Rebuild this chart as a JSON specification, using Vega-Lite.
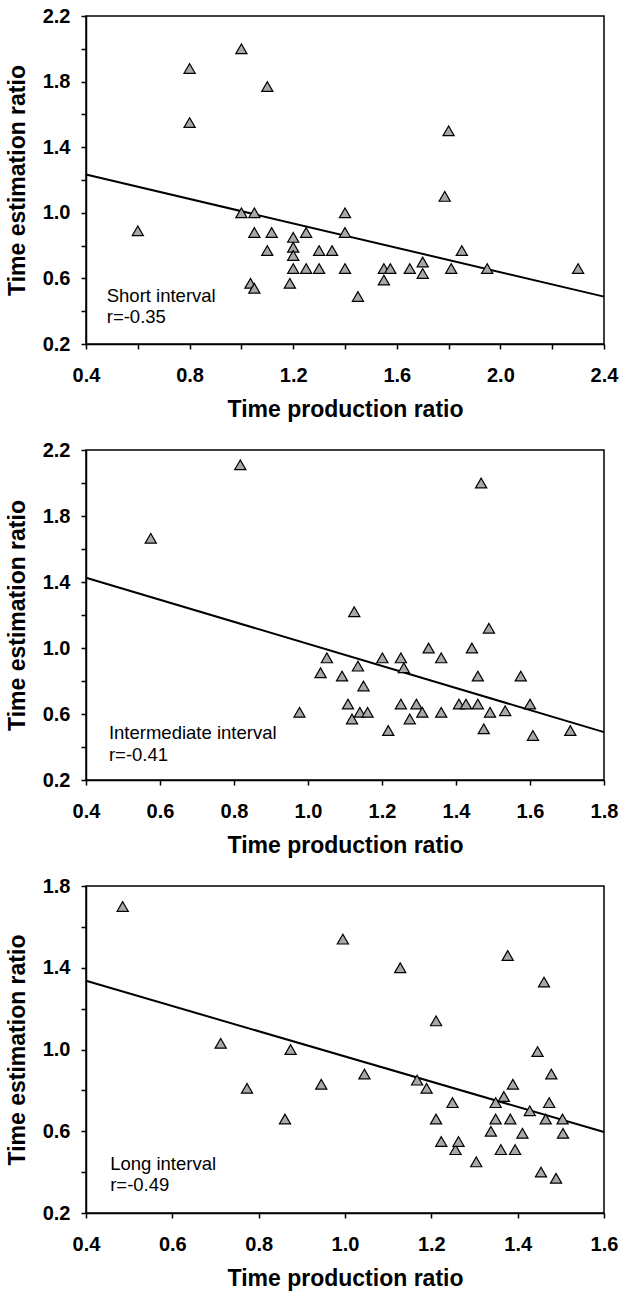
{
  "$schema": "https://vega.github.io/schema/vega-lite/v6.json",
  "padding": {"left": 5, "top": 5, "right": 5, "bottom": 5},
  "spacing": 106,
  "bounds": "flush",
  "datasets": {
    "short": [
      {"x": 0.60, "y": 0.89}, {"x": 0.80, "y": 1.88}, {"x": 0.80, "y": 1.55}, {"x": 1.00, "y": 2.00},
      {"x": 1.10, "y": 1.77}, {"x": 1.00, "y": 1.00}, {"x": 1.05, "y": 1.00}, {"x": 1.05, "y": 0.88},
      {"x": 1.117, "y": 0.88}, {"x": 1.10, "y": 0.77}, {"x": 1.035, "y": 0.57}, {"x": 1.05, "y": 0.54},
      {"x": 1.20, "y": 0.85}, {"x": 1.20, "y": 0.79}, {"x": 1.20, "y": 0.74}, {"x": 1.20, "y": 0.66},
      {"x": 1.187, "y": 0.57}, {"x": 1.25, "y": 0.88}, {"x": 1.25, "y": 0.66}, {"x": 1.30, "y": 0.77},
      {"x": 1.30, "y": 0.66}, {"x": 1.35, "y": 0.77}, {"x": 1.40, "y": 1.00}, {"x": 1.40, "y": 0.88},
      {"x": 1.40, "y": 0.66}, {"x": 1.45, "y": 0.49}, {"x": 1.55, "y": 0.66}, {"x": 1.55, "y": 0.59},
      {"x": 1.575, "y": 0.66}, {"x": 1.65, "y": 0.66}, {"x": 1.70, "y": 0.70}, {"x": 1.70, "y": 0.63},
      {"x": 1.785, "y": 1.10}, {"x": 1.80, "y": 1.50}, {"x": 1.81, "y": 0.66}, {"x": 1.851, "y": 0.77},
      {"x": 1.949, "y": 0.66}, {"x": 2.30, "y": 0.66}
    ],
    "inter": [
      {"x": 0.575, "y": 1.665}, {"x": 0.817, "y": 2.11}, {"x": 1.468, "y": 2.00}, {"x": 1.125, "y": 1.22},
      {"x": 1.489, "y": 1.12}, {"x": 0.977, "y": 0.61}, {"x": 1.034, "y": 0.85}, {"x": 1.051, "y": 0.94},
      {"x": 1.092, "y": 0.83}, {"x": 1.135, "y": 0.89}, {"x": 1.150, "y": 0.77}, {"x": 1.108, "y": 0.66},
      {"x": 1.119, "y": 0.57}, {"x": 1.140, "y": 0.61}, {"x": 1.161, "y": 0.61}, {"x": 1.201, "y": 0.94},
      {"x": 1.217, "y": 0.50}, {"x": 1.251, "y": 0.94}, {"x": 1.259, "y": 0.88}, {"x": 1.251, "y": 0.66},
      {"x": 1.275, "y": 0.57}, {"x": 1.293, "y": 0.66}, {"x": 1.309, "y": 0.61}, {"x": 1.326, "y": 1.00},
      {"x": 1.360, "y": 0.94}, {"x": 1.360, "y": 0.61}, {"x": 1.408, "y": 0.66}, {"x": 1.427, "y": 0.66},
      {"x": 1.443, "y": 1.00}, {"x": 1.459, "y": 0.83}, {"x": 1.459, "y": 0.66}, {"x": 1.475, "y": 0.51},
      {"x": 1.492, "y": 0.61}, {"x": 1.533, "y": 0.62}, {"x": 1.575, "y": 0.83}, {"x": 1.600, "y": 0.66},
      {"x": 1.608, "y": 0.47}, {"x": 1.709, "y": 0.50}
    ],
    "long": [
      {"x": 0.485, "y": 1.70}, {"x": 0.712, "y": 1.03}, {"x": 0.773, "y": 0.81}, {"x": 0.861, "y": 0.66},
      {"x": 0.874, "y": 1.00}, {"x": 0.945, "y": 0.83}, {"x": 0.995, "y": 1.54}, {"x": 1.045, "y": 0.88},
      {"x": 1.128, "y": 1.40}, {"x": 1.167, "y": 0.85}, {"x": 1.189, "y": 0.81}, {"x": 1.211, "y": 1.14},
      {"x": 1.211, "y": 0.66}, {"x": 1.223, "y": 0.55}, {"x": 1.249, "y": 0.74}, {"x": 1.256, "y": 0.51},
      {"x": 1.263, "y": 0.55}, {"x": 1.304, "y": 0.45}, {"x": 1.338, "y": 0.60}, {"x": 1.349, "y": 0.74},
      {"x": 1.349, "y": 0.66}, {"x": 1.361, "y": 0.51}, {"x": 1.368, "y": 0.77}, {"x": 1.377, "y": 1.46},
      {"x": 1.383, "y": 0.66}, {"x": 1.389, "y": 0.83}, {"x": 1.394, "y": 0.51}, {"x": 1.411, "y": 0.59},
      {"x": 1.428, "y": 0.70}, {"x": 1.446, "y": 0.99}, {"x": 1.454, "y": 0.40}, {"x": 1.461, "y": 1.33},
      {"x": 1.465, "y": 0.66}, {"x": 1.473, "y": 0.74}, {"x": 1.478, "y": 0.88}, {"x": 1.489, "y": 0.37},
      {"x": 1.504, "y": 0.66}, {"x": 1.505, "y": 0.59}
    ],
    "short_fit": [{"x": 0.4, "y": 1.233}, {"x": 2.4, "y": 0.489}],
    "inter_fit": [{"x": 0.4, "y": 1.426}, {"x": 1.8, "y": 0.490}],
    "long_fit": [{"x": 0.4, "y": 1.336}, {"x": 1.6, "y": 0.596}],
    "short_note": [{"x": 0.48, "y": 0.495, "t": "Short interval"}, {"x": 0.48, "y": 0.367, "t": "r=-0.35"}],
    "inter_note": [{"x": 0.462, "y": 0.484, "t": "Intermediate interval"}, {"x": 0.462, "y": 0.352, "t": "r=-0.41"}],
    "long_note": [{"x": 0.456, "y": 0.441, "t": "Long interval"}, {"x": 0.456, "y": 0.335, "t": "r=-0.49"}]
  },
  "vconcat": [
    {
      "width": 518,
      "height": 328,
      "encoding": {
        "x": {
          "field": "x", "type": "quantitative",
          "scale": {"domain": [0.4, 2.4], "nice": false, "zero": false},
          "axis": {
            "title": "Time production ratio", "format": ".1f",
            "values": [0.4, 0.6, 0.8, 1.0, 1.2, 1.4, 1.6, 1.8, 2.0, 2.2, 2.4],
            "labelExpr": "round(datum.value * 10) % 4 == 0 ? datum.label : ''"
          }
        },
        "y": {
          "field": "y", "type": "quantitative",
          "scale": {"domain": [0.2, 2.2], "nice": false, "zero": false},
          "axis": {
            "title": "Time estimation ratio", "format": ".1f",
            "values": [0.2, 0.4, 0.6, 0.8, 1.0, 1.2, 1.4, 1.6, 1.8, 2.0, 2.2],
            "labelExpr": "round(datum.value * 10) % 4 == 2 ? datum.label : ''"
          }
        }
      },
      "layer": [
        {"data": {"name": "short_fit"}, "mark": {"type": "line", "color": "black", "strokeWidth": 2}},
        {"data": {"name": "short"}, "mark": {"type": "point", "shape": "triangle-up", "size": 125, "filled": true, "fill": "#a8a8a8", "stroke": "black", "strokeWidth": 1.2, "opacity": 1}},
        {"data": {"name": "short_note"}, "mark": {"type": "text", "align": "left", "baseline": "middle", "fontSize": 18.5, "font": "Liberation Sans", "color": "black"}, "encoding": {"text": {"field": "t"}}}
      ]
    },
    {
      "width": 518,
      "height": 330,
      "encoding": {
        "x": {
          "field": "x", "type": "quantitative",
          "scale": {"domain": [0.4, 1.8], "nice": false, "zero": false},
          "axis": {
            "title": "Time production ratio", "format": ".1f",
            "values": [0.4, 0.6, 0.8, 1.0, 1.2, 1.4, 1.6, 1.8]
          }
        },
        "y": {
          "field": "y", "type": "quantitative",
          "scale": {"domain": [0.2, 2.2], "nice": false, "zero": false},
          "axis": {
            "title": "Time estimation ratio", "format": ".1f",
            "values": [0.2, 0.4, 0.6, 0.8, 1.0, 1.2, 1.4, 1.6, 1.8, 2.0, 2.2],
            "labelExpr": "round(datum.value * 10) % 4 == 2 ? datum.label : ''"
          }
        }
      },
      "layer": [
        {"data": {"name": "inter_fit"}, "mark": {"type": "line", "color": "black", "strokeWidth": 2}},
        {"data": {"name": "inter"}, "mark": {"type": "point", "shape": "triangle-up", "size": 125, "filled": true, "fill": "#a8a8a8", "stroke": "black", "strokeWidth": 1.2, "opacity": 1}},
        {"data": {"name": "inter_note"}, "mark": {"type": "text", "align": "left", "baseline": "middle", "fontSize": 18.5, "font": "Liberation Sans", "color": "black"}, "encoding": {"text": {"field": "t"}}}
      ]
    },
    {
      "width": 518,
      "height": 327,
      "encoding": {
        "x": {
          "field": "x", "type": "quantitative",
          "scale": {"domain": [0.4, 1.6], "nice": false, "zero": false},
          "axis": {
            "title": "Time production ratio", "format": ".1f",
            "values": [0.4, 0.6, 0.8, 1.0, 1.2, 1.4, 1.6]
          }
        },
        "y": {
          "field": "y", "type": "quantitative",
          "scale": {"domain": [0.2, 1.8], "nice": false, "zero": false},
          "axis": {
            "title": "Time estimation ratio", "format": ".1f",
            "values": [0.2, 0.4, 0.6, 0.8, 1.0, 1.2, 1.4, 1.6, 1.8],
            "labelExpr": "round(datum.value * 10) % 4 == 2 ? datum.label : ''"
          }
        }
      },
      "layer": [
        {"data": {"name": "long_fit"}, "mark": {"type": "line", "color": "black", "strokeWidth": 2}},
        {"data": {"name": "long"}, "mark": {"type": "point", "shape": "triangle-up", "size": 125, "filled": true, "fill": "#a8a8a8", "stroke": "black", "strokeWidth": 1.2, "opacity": 1}},
        {"data": {"name": "long_note"}, "mark": {"type": "text", "align": "left", "baseline": "middle", "fontSize": 18.5, "font": "Liberation Sans", "color": "black"}, "encoding": {"text": {"field": "t"}}}
      ]
    }
  ],
  "config": {
    "font": "Liberation Sans",
    "view": {"stroke": "black", "strokeWidth": 1.5},
    "axis": {
      "grid": false,
      "domainColor": "black", "domainWidth": 1.5,
      "tickColor": "black", "tickWidth": 1.5, "tickSize": 5,
      "labelFont": "Liberation Sans", "labelFontWeight": "bold", "labelFontSize": 20, "labelColor": "black",
      "labelOverlap": false, "labelFlush": false,
      "titleFont": "Liberation Sans", "titleFontWeight": "bold", "titleFontSize": 23, "titleColor": "black"
    },
    "axisX": {"labelPadding": 16, "titlePadding": 13},
    "axisY": {"labelPadding": 11, "titlePadding": 13}
  }
}
